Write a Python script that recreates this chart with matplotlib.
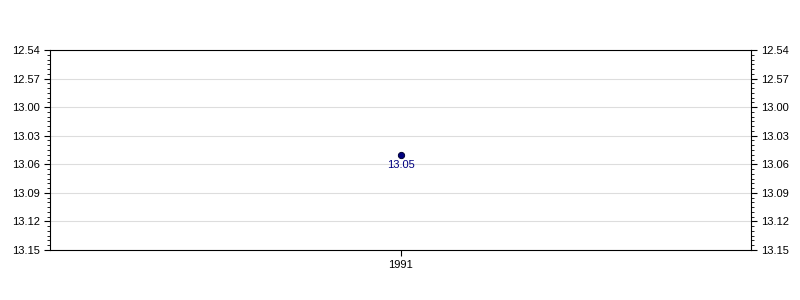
import matplotlib.pyplot as plt
from matplotlib.ticker import FuncFormatter, MultipleLocator

plt.rcParams['font.family'] = ['Liberation Sans', 'DejaVu Sans']
plt.rcParams['font.size'] = 8

years = [1991]
times = ['13.05']   # min.sec
y_min, y_max = '12.54', '13.15'


def to_sec(s):
    m, sec = s.split('.')
    return int(m) * 60 + int(sec)


def fmt(v, pos):
    v = int(round(v))
    return '%d.%02d' % (v // 60, v % 60)


secs = [to_sec(t) for t in times]

fig = plt.figure(figsize=(8, 3), dpi=100)
ax = fig.add_axes([0.0625, 0.1667, 0.87625, 0.6667])

ax.plot(years, secs, 'o', color='#000080', markeredgecolor='#000033',
        markersize=4.5, markeredgewidth=0.7, zorder=3)
for x, y, t in zip(years, secs, times):
    ax.annotate(t, (x, y), xytext=(0, -3.5), textcoords='offset points',
                ha='center', va='top', color='#000080', fontsize=8)

ax.set_xlim(years[0] - 1, years[-1] + 1)
ax.set_xticks(years)
ax.set_ylim(to_sec(y_max), to_sec(y_min))
ax.yaxis.set_major_locator(MultipleLocator(3))
ax.yaxis.set_minor_locator(MultipleLocator(0.5))
ax.yaxis.set_major_formatter(FuncFormatter(fmt))
ax.grid(axis='y', color='#dddddd', linewidth=0.8)
ax.set_axisbelow(True)

ax.tick_params(axis='y', which='both', left=True, right=True,
               labelleft=True, labelright=True, direction='out')
ax.tick_params(axis='y', which='major', length=4, width=0.8, pad=3)
ax.tick_params(axis='y', which='minor', length=2, width=0.6)
ax.tick_params(axis='x', length=4, width=0.8, pad=3)
for s in ax.spines.values():
    s.set_linewidth(0.8)

fig.savefig('out.png', dpi=100)
